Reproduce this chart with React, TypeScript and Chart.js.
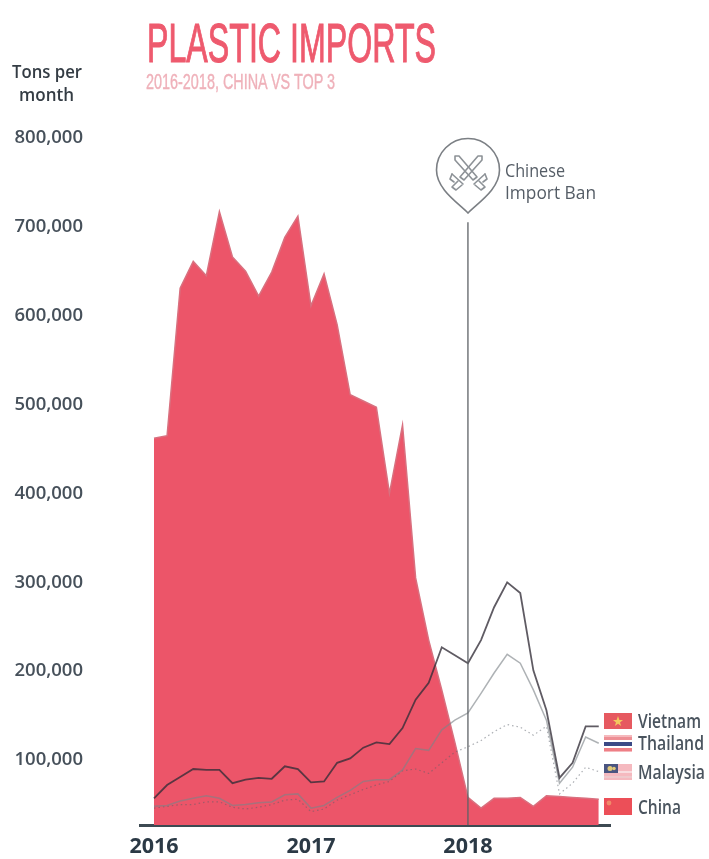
import React, { useEffect, useRef } from "react";
import { Chart, registerables } from "chart.js";

Chart.register(...registerables);

const months = [0,1,2,3,4,5,6,7,8,9,10,11,12,13,14,15,16,17,18,19,20,21,22,23,24,25,26,27,28,29,30,31,32,33,34];
const china = [462000,465000,631000,661000,645000,717000,666000,650000,622000,649000,688000,712000,611000,647000,590000,511000,504000,497000,400000,477000,305000,235000,179000,120000,58000,46000,57000,57000,58000,48000,60000,59000,58000,57000,56000];
const vietnam = [57000,72000,81000,90000,89000,89000,74000,78000,80000,79000,93000,90000,75000,76000,97000,102000,114000,120000,118000,136000,168000,187000,227000,218000,209000,235000,272000,300000,288000,201000,156000,80000,97000,138000,138000];
const thailand = [48000,49000,54000,57000,60000,57000,49000,50000,52000,53000,61000,62000,46000,49000,58000,66000,76000,78000,78000,89000,113000,111000,134000,145000,153000,175000,198000,219000,209000,179000,145000,74000,92000,126000,119000];
const malaysia = [46000,48000,50000,50000,53000,53000,47000,45000,47000,50000,55000,56000,42000,45000,55000,61000,67000,72000,76000,88000,90000,85000,97000,109000,115000,122000,132000,140000,137000,128000,138000,62000,74000,92000,87000];
const yTicks = [100000,200000,300000,400000,500000,600000,700000,800000];
const yearTicks = [0,12,24];
const yearLabels = ["2016","2017","2018"];
const banMonth = 24;
const banTop = 705000;
const axisMin = 27000;
const legendNames = ["Vietnam","Thailand","Malaysia","China"];

const zip = (ys: number[]) => ys.map((y, i) => ({ x: months[i], y }));
const FONT = '"Open Sans", "Noto Sans", sans-serif';
const NARROW = '"Liberation Sans Narrow", "Liberation Sans", sans-serif';

function Flags() {
  return (
    <g>
      <g opacity="0.9">
        <rect x="604" y="713" width="28" height="16" fill="#e4474f" />
        <polygon points="618,716 619.4,720 623,720 620,722.4 621.2,726 618,723.8 614.8,726 616,722.4 613,720 616.6,720" fill="#f2c14e" />
      </g>
      <g>
        <rect x="604" y="735" width="28" height="17" fill="#f6b9bd" />
        <rect x="604" y="737" width="28" height="3" fill="#ee8f95" />
        <rect x="604" y="740" width="28" height="2" fill="#ffffff" />
        <rect x="604" y="742" width="28" height="4" fill="#3b4a86" />
        <rect x="604" y="746" width="28" height="2" fill="#ffffff" />
        <rect x="604" y="748" width="28" height="3" fill="#ee7f86" />
      </g>
      <g>
        <rect x="604" y="764" width="28" height="16" fill="#f5b9bf" />
        <rect x="604" y="771" width="28" height="2" fill="#f8dcdf" />
        <rect x="604" y="776" width="28" height="2" fill="#eec9cc" />
        <rect x="604" y="764" width="14" height="9" fill="#4a5580" />
        <circle cx="610" cy="768.5" r="2.5" fill="#e0c878" />
        <circle cx="614" cy="768.5" r="1.8" fill="#e0c878" />
      </g>
      <g>
        <rect x="604" y="798" width="28" height="17" fill="#ec4f58" />
        <circle cx="609" cy="803" r="2.4" fill="#f08a6a" />
      </g>
    </g>
  );
}

export default function App() {
  const ref = useRef<HTMLCanvasElement>(null);
  useEffect(() => {
    if (!ref.current) return;
    const chart = new Chart(ref.current, {
      type: "line",
      data: {
        datasets: [
          { label: "China", data: zip(china), order: 5, fill: "start", backgroundColor: "#ec5569", borderColor: "#d9707f", borderWidth: 1.5, pointRadius: 0, tension: 0 },
          { label: "Malaysia", data: zip(malaysia), order: 3, borderColor: "rgba(90,95,105,0.5)", borderDash: [1.5, 3], borderWidth: 1.2, pointRadius: 0, tension: 0 },
          { label: "Thailand", data: zip(thailand), order: 2, borderColor: "rgba(125,130,135,0.62)", borderWidth: 1.5, pointRadius: 0, tension: 0 },
          { label: "Vietnam", data: zip(vietnam), order: 1, borderColor: "rgba(50,45,55,0.78)", borderWidth: 1.8, pointRadius: 0, tension: 0 },
          { label: "Ban", data: [{ x: banMonth, y: axisMin }, { x: banMonth, y: banTop }], order: 0, borderColor: "#5e6266", borderWidth: 1.3, pointRadius: 0 },
        ],
      },
      options: {
        responsive: false,
        animation: false,
        layout: { padding: { top: 100, right: 99, left: 0, bottom: 0 } },
        plugins: { legend: { display: false }, tooltip: { enabled: false }, title: { display: false } },
        scales: {
          x: {
            type: "linear",
            min: -1.07,
            max: 34.86,
            afterFit: (s: any) => { s.height = 34; s.paddingLeft = 0; s.paddingRight = 0; },
            afterBuildTicks: (s: any) => { s.ticks = yearTicks.map((value) => ({ value })); },
            grid: { display: false, drawTicks: false },
            border: { display: true, color: "#3d4a52", width: 3 },
            ticks: {
              autoSkip: false,
              maxRotation: 0,
              padding: 9,
              color: "#2b3945",
              font: { family: FONT, size: 21.5, weight: 700 },
              callback: (v: any) => yearLabels[yearTicks.indexOf(Number(v))] ?? "",
            },
          },
          y: {
            type: "linear",
            min: axisMin,
            max: 842600,
            afterFit: (s: any) => { s.width = 140; s.paddingTop = 0; s.paddingBottom = 0; },
            afterBuildTicks: (s: any) => { s.ticks = yTicks.map((value) => ({ value })); },
            grid: { display: false, drawTicks: false },
            border: { display: false },
            ticks: {
              padding: 57,
              color: "#46505a",
              font: { family: FONT, size: 18.5, weight: 600 },
              callback: (v: any) => Number(v).toLocaleString("en-US"),
            },
          },
        },
      },
    });
    return () => chart.destroy();
  }, []);

  return (
    <div style={{ position: "absolute", left: 0, top: 0, width: 709, height: 859, background: "#fff" }}>
      <canvas ref={ref} width={709} height={859} style={{ position: "absolute", left: 0, top: 0, display: "block" }} />
      <svg width={709} height={859} style={{ position: "absolute", left: 0, top: 0 }}>
        <text x="147" y="62" textLength="289" lengthAdjust="spacingAndGlyphs" fontFamily={NARROW} fontSize="55" fill="#ee5a6e" stroke="#ee5a6e" strokeWidth="1.1">PLASTIC IMPORTS</text>
        <text x="146" y="89" textLength="189" lengthAdjust="spacingAndGlyphs" fontFamily={NARROW} fontSize="22" fill="#efb1ba" stroke="#efb1ba" strokeWidth="0.4">2016-2018, CHINA VS TOP 3</text>
        <text x="12" y="78" textLength="70" lengthAdjust="spacingAndGlyphs" fontFamily={FONT} fontSize="18" fontWeight="600" fill="#343c44">Tons per</text>
        <text x="19" y="101" textLength="55" lengthAdjust="spacingAndGlyphs" fontFamily={FONT} fontSize="18" fontWeight="600" fill="#343c44">month</text>

        <path d="M468 213 C460 204 436.5 190 436.5 170 A31.5 31.5 0 1 1 499.5 170 C499.5 190 476 204 468 213 Z" fill="#fff" stroke="#7b7f84" strokeWidth="1.6" />
        <g stroke="#8d9297" strokeWidth="1.6" fill="none" strokeLinecap="round" strokeLinejoin="round">
          <path d="M455 156 L459 156 L477 177 L473 180 L455 160 Z" />
          <path d="M482 156 L478 156 L460 177 L464 180 L482 160 Z" />
          <path d="M452 174 L463 184 M485 174 L474 184" />
          <path d="M452 174 L450 179 L454 182 M485 174 L487 179 L483 182" />
          <path d="M458 181 L452 187 L456 190 L462 185 M479 181 L485 187 L481 190 L475 185" />
        </g>
        <text x="505" y="177" textLength="60" lengthAdjust="spacingAndGlyphs" fontFamily={FONT} fontSize="19" fontWeight="500" fill="#555d66">Chinese</text>
        <text x="505" y="199" textLength="91" lengthAdjust="spacingAndGlyphs" fontFamily={FONT} fontSize="19" fontWeight="500" fill="#555d66">Import Ban</text>

        <Flags />
        <text x="638" y="728" textLength="63" lengthAdjust="spacingAndGlyphs" fontFamily={FONT} fontSize="19.5" fontWeight="600" fill="#4a545e">{legendNames[0]}</text>
        <text x="638" y="750" textLength="66" lengthAdjust="spacingAndGlyphs" fontFamily={FONT} fontSize="19.5" fontWeight="600" fill="#4a545e">{legendNames[1]}</text>
        <text x="638" y="779" textLength="67" lengthAdjust="spacingAndGlyphs" fontFamily={FONT} fontSize="19.5" fontWeight="600" fill="#4a545e">{legendNames[2]}</text>
        <text x="638" y="814" textLength="43" lengthAdjust="spacingAndGlyphs" fontFamily={FONT} fontSize="19.5" fontWeight="600" fill="#4a545e">{legendNames[3]}</text>
      </svg>
    </div>
  );
}
